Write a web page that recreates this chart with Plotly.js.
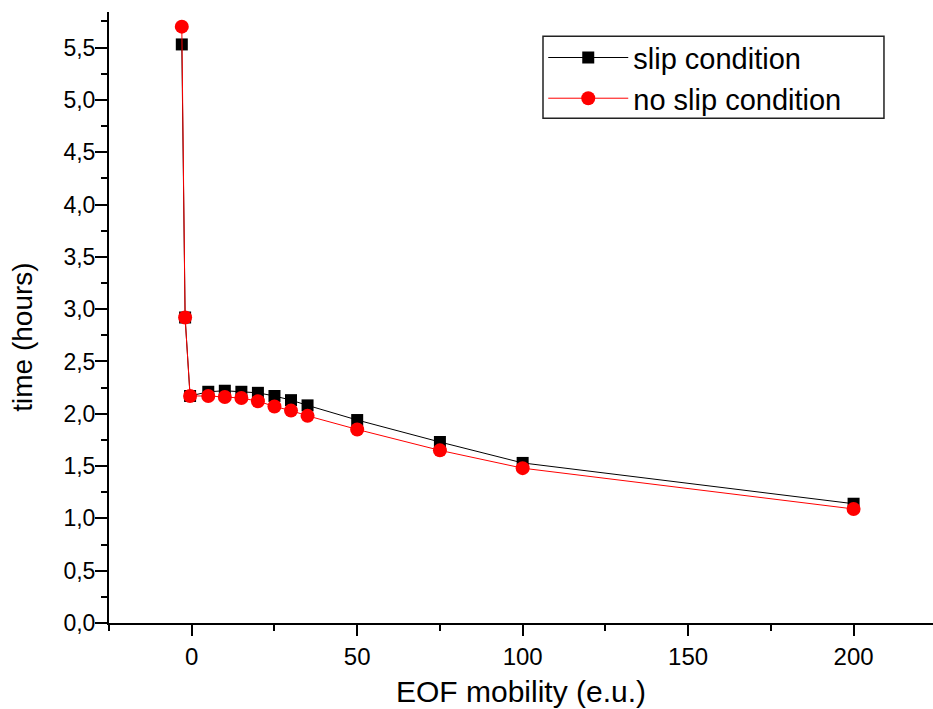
<!DOCTYPE html>
<html>
<head>
<meta charset="utf-8">
<script src="https://cdn.plot.ly/plotly-3.0.1.min.js"></script>
<style>html,body{margin:0;padding:0;background:#fff;}#chart{width:933px;height:709px;}</style>
</head>
<body>
<div id="chart"></div>
<script>
const xValues = [-3, -2, -0.5, 5, 10, 15, 20, 25, 30, 35, 50, 75, 100, 200];
const slipTime = [5.53, 2.92, 2.17, 2.21, 2.22, 2.21, 2.20, 2.17, 2.13, 2.08, 1.94, 1.73, 1.53, 1.14];
const noSlipTime = [5.70, 2.92, 2.17, 2.17, 2.16, 2.15, 2.12, 2.07, 2.03, 1.98, 1.85, 1.65, 1.48, 1.09];
const seriesNames = ["slip condition", "no slip condition"];
const xTickVals = [0, 50, 100, 150, 200];
const yTickVals = [0, 0.5, 1, 1.5, 2, 2.5, 3, 3.5, 4, 4.5, 5, 5.5];

const font = "Liberation Sans, Arial, sans-serif";

const traces = [
  {
    x: xValues, y: slipTime, name: seriesNames[0], type: "scatter", mode: "lines+markers",
    line: {color: "#000000", width: 1},
    marker: {symbol: "square", size: 12, color: "#000000"}
  },
  {
    x: xValues, y: noSlipTime, name: seriesNames[1], type: "scatter", mode: "lines+markers",
    line: {color: "#ff0000", width: 1},
    marker: {symbol: "circle", size: 14, color: "#ff0000"}
  }
];

const layout = {
  width: 933, height: 709,
  margin: {l: 109, r: 0, t: 12, b: 86, pad: 0},
  paper_bgcolor: "#fff", plot_bgcolor: "#fff",
  separators: ", ",
  font: {family: font, color: "#000", size: 23},
  showlegend: true,
  legend: {
    x: 0.527, y: 0.967, xanchor: "left", yanchor: "top",
    bgcolor: "rgba(0,0,0,0)", borderwidth: 0,
    font: {family: font, size: 29, color: "#000"},
    itemwidth: 80, tracegroupgap: 0
  },
  shapes: [{
    type: "rect", xref: "paper", yref: "paper", layer: "above",
    x0: 0.5267, x1: 0.9405, y0: 0.8261, y1: 0.9602,
    line: {color: "#222", width: 1.5}, fillcolor: "#fff"
  }],
  annotations: [{
    text: "time (hours)", xref: "paper", yref: "paper",
    x: -0.106, y: 0.468, xanchor: "center", yanchor: "middle",
    textangle: -90, showarrow: false,
    font: {family: font, size: 28, color: "#000"}
  }],
  xaxis: {
    range: [-25, 224], showgrid: false, zeroline: false,
    showline: true, linecolor: "#000", linewidth: 2,
    tickmode: "array", tickvals: xTickVals,
    ticks: "outside", ticklen: 11, tickwidth: 2, tickcolor: "#000",
    minor: {dtick: 25, tick0: 0, ticks: "outside", ticklen: 6, tickwidth: 2, tickcolor: "#000"},
    tickfont: {family: font, size: 24, color: "#000"},
    title: {text: "EOF mobility (e.u.)", font: {family: font, size: 30, color: "#000"}, standoff: 12}
  },
  yaxis: {
    range: [0, 5.84], showgrid: false, zeroline: false,
    showline: true, linecolor: "#000", linewidth: 2,
    tickmode: "array", tickvals: yTickVals, tickformat: ".1f",
    ticks: "outside", ticklen: 12, tickwidth: 2, tickcolor: "#000",
    ticklabelstandoff: -5,
    minor: {dtick: 0.25, tick0: 0, ticks: "outside", ticklen: 6, tickwidth: 2, tickcolor: "#000"},
    tickfont: {family: font, size: 23, color: "#000"}
  }
};

Plotly.newPlot("chart", traces, layout, {displayModeBar: false, staticPlot: true});
</script>
</body>
</html>
